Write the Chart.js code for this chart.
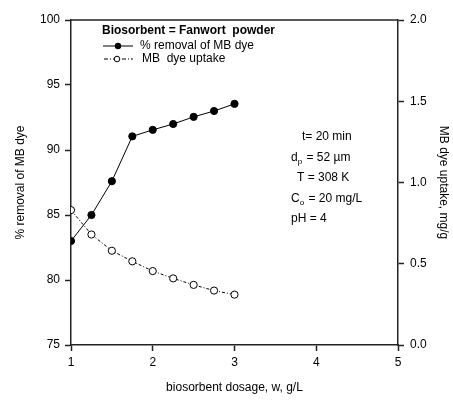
<!DOCTYPE html>
<html>
<head>
<meta charset="utf-8">
<script src="https://cdn.jsdelivr.net/npm/chart.js@4"></script>
<style>
  html, body { margin: 0; padding: 0; background: #fff; }
  #c { display: block; }
</style>
</head>
<body>
<canvas id="c" width="453" height="400"></canvas>
<script>
// dosage (g/L) and the two measured series
const dosage = [1, 1.25, 1.5, 1.75, 2, 2.25, 2.5, 2.75, 3]
const removal = [83.0, 85.0, 87.6, 91.05, 91.55, 92.0, 92.55, 93.0, 93.55]
const uptake = [0.83, 0.68, 0.58, 0.515, 0.455, 0.41, 0.37, 0.335, 0.31]

const xTicks = [1, 2, 3, 4, 5]
const leftTicks = [75, 80, 85, 90, 95, 100]
const rightTicks = [0, 0.5, 1.0, 1.5, 2.0]

// [text, subscript, rest, x]
const conditions = [
  ['t= 20 min', '', '', 302],
  ['d', 'p', ' = 52 \u00b5m', 291],
  ['T = 308 K', '', '', 297],
  ['C', 'o', ' = 20 mg/L', 291],
  ['pH = 4', '', '', 291]
]

const FONT = 'Liberation Sans, Arial, sans-serif'
const AXIS = '#222'

function pts(ys) {
  return dosage.map((x, i) => ({ x: x, y: ys[i] }))
}

// top frame line, legend box and the experimental conditions
const extras = {
  id: 'extras',
  afterDraw(chart) {
    const ctx = chart.ctx
    const a = chart.chartArea
    ctx.save()
    ctx.strokeStyle = AXIS
    ctx.lineWidth = 1.5
    ctx.beginPath()
    ctx.moveTo(a.left, a.top)
    ctx.lineTo(a.right, a.top)
    ctx.stroke()

    ctx.fillStyle = '#000'
    ctx.textBaseline = 'middle'
    ctx.font = 'bold 12px ' + FONT
    ctx.fillText('Biosorbent = Fanwort  powder', 102, 31)

    ctx.font = '12px ' + FONT
    ctx.lineWidth = 1
    ctx.strokeStyle = '#000'
    // solid series sample
    ctx.beginPath()
    ctx.moveTo(103, 46); ctx.lineTo(133, 46); ctx.stroke()
    ctx.beginPath(); ctx.arc(118, 46, 3.2, 0, Math.PI * 2); ctx.fill()
    ctx.fillText('% removal of MB dye', 140, 46)
    // dotted series sample
    ctx.setLineDash([4, 2, 1, 2])
    ctx.beginPath()
    ctx.moveTo(104, 59); ctx.lineTo(133, 59); ctx.stroke()
    ctx.setLineDash([])
    ctx.fillStyle = '#fff'
    ctx.beginPath(); ctx.arc(117, 59, 2.8, 0, Math.PI * 2); ctx.fill(); ctx.stroke()
    ctx.fillStyle = '#000'
    ctx.fillText('MB  dye uptake', 142, 59)

    // conditions, with subscripts
    let y = 137
    conditions.forEach(c => {
      let x = c[3]
      ctx.font = '12px ' + FONT
      ctx.fillText(c[0], x, y)
      x += ctx.measureText(c[0]).width
      if (c[1]) {
        ctx.font = '8px ' + FONT
        ctx.fillText(c[1], x, y + 4)
        x += ctx.measureText(c[1]).width + 1
        ctx.font = '12px ' + FONT
        ctx.fillText(c[2], x, y)
      }
      y += 20.5
    })
    ctx.restore()
  }
}

function fixWidth(w) {
  return function (s) { s.width = w }
}

new Chart(document.getElementById('c'), {
  type: 'line',
  data: {
    datasets: [
      {
        label: '% removal of MB dye',
        data: pts(removal),
        yAxisID: 'y',
        borderColor: '#000',
        borderWidth: 1,
        pointRadius: 3.6,
        pointBackgroundColor: '#000',
        pointBorderColor: '#000',
        tension: 0
      },
      {
        label: 'MB  dye uptake',
        data: pts(uptake),
        yAxisID: 'y1',
        borderColor: '#000',
        borderWidth: 1,
        borderDash: [3, 2, 1, 2],
        pointRadius: 3.6,
        pointBackgroundColor: '#fff',
        pointBorderColor: '#000',
        pointBorderWidth: 1,
        tension: 0
      }
    ]
  },
  options: {
    responsive: false,
    animation: false,
    layout: { padding: { top: 20 } },
    plugins: { legend: { display: false }, tooltip: { enabled: false } },
    scales: {
      x: {
        type: 'linear',
        min: 1,
        max: 5,
        afterFit(s) { s.height = 55 },
        afterBuildTicks(s) { s.ticks = xTicks.map(v => ({ value: v })) },
        ticks: { color: '#000', font: { family: FONT, size: 12 }, padding: 4 },
        grid: { drawOnChartArea: false, tickLength: 6, tickColor: AXIS, tickWidth: 1.5 },
        border: { color: AXIS, width: 1.5 },
        title: {
          display: true,
          text: 'biosorbent dosage, w, g/L',
          color: '#000',
          font: { family: FONT, size: 12 },
          padding: { top: 0, bottom: 5 }
        }
      },
      y: {
        position: 'left',
        min: 75,
        max: 100,
        afterFit: fixWidth(71),
        afterBuildTicks(s) { s.ticks = leftTicks.map(v => ({ value: v })) },
        ticks: { color: '#000', font: { family: FONT, size: 12 }, padding: 5 },
        grid: { drawOnChartArea: false, tickLength: 6, tickColor: AXIS, tickWidth: 1.5 },
        border: { color: AXIS, width: 1.5 },
        title: {
          display: true,
          text: '% removal of MB dye',
          color: '#000',
          font: { family: FONT, size: 12 },
          padding: { top: 13, bottom: 0 }
        }
      },
      y1: {
        position: 'right',
        min: 0,
        max: 2,
        afterFit: fixWidth(55),
        afterBuildTicks(s) { s.ticks = rightTicks.map(v => ({ value: v })) },
        ticks: {
          color: '#000',
          font: { family: FONT, size: 12 },
          padding: 6,
          callback: v => v.toFixed(1)
        },
        grid: { drawOnChartArea: false, tickLength: 6, tickColor: AXIS, tickWidth: 1.5 },
        border: { color: AXIS, width: 1.5 },
        title: {
          display: true,
          text: 'MB dye uptake, mg/g',
          color: '#000',
          font: { family: FONT, size: 12 },
          padding: { top: 2, bottom: 0 }
        }
      }
    }
  },
  plugins: [extras]
})
</script>
</body>
</html>
